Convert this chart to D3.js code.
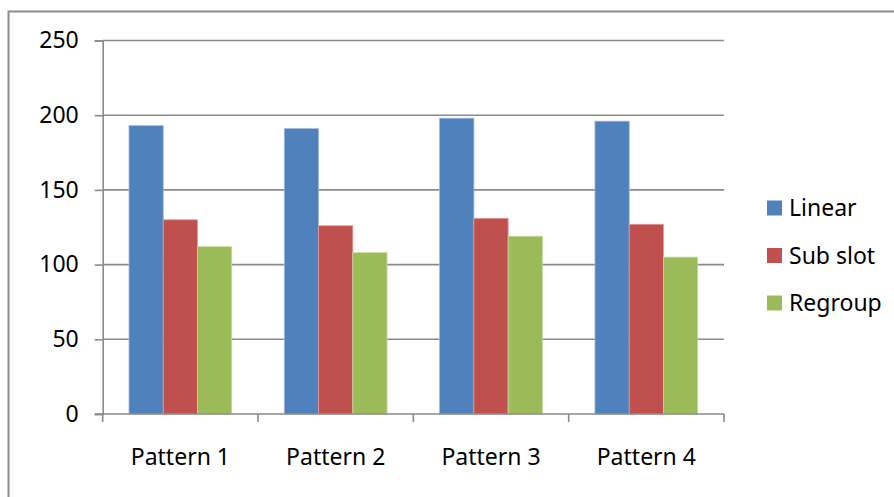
<!DOCTYPE html>
<html>
<head>
<meta charset="utf-8">
<script src="https://cdn.jsdelivr.net/npm/d3@7"></script>
<style>
  body { margin: 0; background: #fff; }
  svg { display: block; }
  text { font-family: "Noto Sans", sans-serif; fill: #000; }
</style>
</head>
<body>
<svg id="chart" width="894" height="497"></svg>
<script>
// chart values
var categories = ["Pattern 1", "Pattern 2", "Pattern 3", "Pattern 4"];
var seriesNames = ["Linear", "Sub slot", "Regroup"];
var linear = [193, 191, 198, 196];
var subSlot = [130, 126, 131, 127];
var regroup = [112, 108, 119, 105];
var yTicks = [0, 50, 100, 150, 200, 250];

var colors = ["#4F81BD", "#C0504D", "#9BBB59"];
var strokes = ["#9DB6DC", "#DE9C9A", "#C6DAA2"];
var seriesValues = [linear, subSlot, regroup];

var svg = d3.select("#chart");

// outer chart border (runs off the right and bottom of the picture)
svg.append("rect")
  .attr("x", 8.5).attr("y", 11.5)
  .attr("width", 1000).attr("height", 1000)
  .attr("fill", "none")
  .attr("stroke", "#8c8c8c")
  .attr("stroke-width", 2);

var plotLeft = 102.7, plotRight = 724, plotTop = 40.5, plotBottom = 414;

var y = d3.scaleLinear().domain([0, 250]).range([plotBottom, plotTop]);
var x0 = d3.scaleBand().domain(categories).range([plotLeft, plotRight]).padding(0);
var x1 = d3.scaleBand().domain(seriesNames)
  .range([26.3, x0.bandwidth() - 26.3]).padding(0);

// gridlines
svg.append("g").selectAll("line")
  .data(yTicks.filter(function(d) { return d > 0; }))
  .enter().append("line")
  .attr("x1", plotLeft).attr("x2", plotRight)
  .attr("y1", function(d) { return y(d); })
  .attr("y2", function(d) { return y(d); })
  .attr("stroke", "#8a8a8a")
  .attr("stroke-width", 1.6);

// bars
var groups = svg.append("g").selectAll("g")
  .data(categories)
  .enter().append("g")
  .attr("transform", function(d) { return "translate(" + x0(d) + ",0)"; });

groups.selectAll("rect")
  .data(function(d, i) {
    return seriesNames.map(function(s, k) { return { s: s, k: k, v: seriesValues[k][i] }; });
  })
  .enter().append("rect")
  .attr("x", function(d) { return x1(d.s); })
  .attr("width", x1.bandwidth())
  .attr("y", function(d) { return y(d.v); })
  .attr("height", function(d) { return y(0) - y(d.v); })
  .attr("fill", function(d) { return colors[d.k]; })
  .attr("stroke", function(d) { return strokes[d.k]; })
  .attr("stroke-width", 0.8);

// y axis
var yAxis = svg.append("g")
  .attr("transform", "translate(" + plotLeft + ",0)")
  .call(d3.axisLeft(y).tickValues(yTicks).tickSize(8).tickPadding(16));
yAxis.select(".domain").attr("stroke", "#8a8a8a").attr("stroke-width", 1.6);
yAxis.selectAll(".tick line").attr("stroke", "#8a8a8a").attr("stroke-width", 1.6);
yAxis.selectAll(".tick text")
  .style("font-family", "'Noto Sans', sans-serif")
  .style("font-size", "23px")
  .attr("fill", "#000");

// x axis with ticks at category boundaries
svg.append("line")
  .attr("x1", plotLeft - 8).attr("x2", plotRight)
  .attr("y1", plotBottom).attr("y2", plotBottom)
  .attr("stroke", "#8a8a8a").attr("stroke-width", 1.6);

var bounds = categories.map(function(c) { return x0(c); }).concat([plotRight]);
svg.append("g").selectAll("line")
  .data(bounds)
  .enter().append("line")
  .attr("x1", function(d) { return d; }).attr("x2", function(d) { return d; })
  .attr("y1", plotBottom).attr("y2", plotBottom + 8)
  .attr("stroke", "#8a8a8a").attr("stroke-width", 1.6);

svg.append("g").selectAll("text")
  .data(categories)
  .enter().append("text")
  .attr("x", function(d) { return x0(d) + x0.bandwidth() / 2; })
  .attr("y", 465)
  .attr("text-anchor", "middle")
  .style("font-size", "23px")
  .text(function(d) { return d; });

// legend
var legend = svg.append("g").selectAll("g")
  .data(seriesNames)
  .enter().append("g")
  .attr("transform", function(d, i) { return "translate(767," + (208 + i * 47.5) + ")"; });

legend.append("rect")
  .attr("x", 0).attr("y", -7.5)
  .attr("width", 15).attr("height", 15)
  .attr("fill", function(d, i) { return colors[i]; });

legend.append("text")
  .attr("x", 22).attr("y", 8)
  .style("font-size", "23px")
  .text(function(d) { return d; });
</script>
</body>
</html>
